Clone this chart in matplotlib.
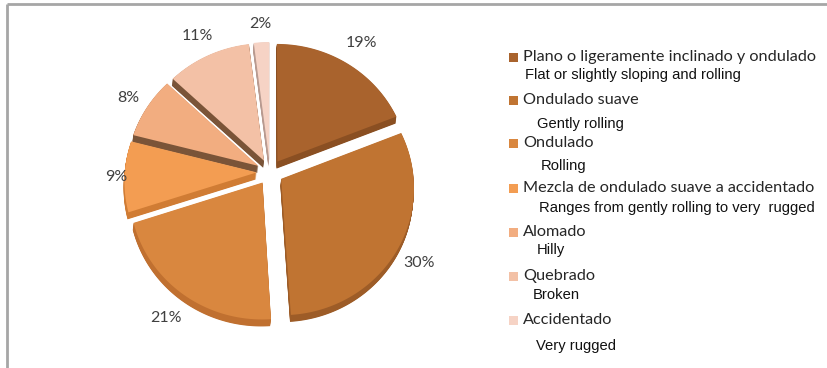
import matplotlib
matplotlib.use("Agg")
import matplotlib.pyplot as plt
import matplotlib.patches as mpatches
import numpy as np

# Terrain classes (Spanish / English) and their shares in percent
labels_es = ["Plano o ligeramente inclinado y ondulado", "Ondulado suave", "Ondulado",
             "Mezcla de ondulado suave a accidentado", "Alomado", "Quebrado", "Accidentado"]
labels_en = ["Flat or slightly sloping and rolling", "Gently rolling", "Rolling",
             "Ranges from gently rolling to very  rugged", "Hilly", "Broken", "Very rugged"]
shares = [19, 30, 21, 9, 8, 11, 2]

colors = ["#a9632d", "#c07432", "#d9873f", "#f39d52", "#f2ad80", "#f3c1a6", "#f6d3c5"]
side_colors = ["#8a4f22", "#9d5c27", "#c07030", "#d07c34", "#7a5438", "#7a5438", "#b89a90"]

W, H = 828, 368
fig = plt.figure(figsize=(W / 100, H / 100), dpi=100)
ax = fig.add_axes([0, 0, 1, 1])

# tilted pie: plane coordinates (unit radius) projected with mild perspective
cx, cy = 270, H - 172
sx, sy, persp = 132, 126.6, 0.065
explode = 0.1
depth = 7


def project(u, v):
    s = 1.0 / (1.0 + persp * v)
    return cx + sx * u * s, cy + sy * v * s


fracs = np.array(shares, dtype=float) / sum(shares)
theta = np.pi / 2
slices = []
for f in fracs:
    t2 = theta - 2 * np.pi * f
    tm = (theta + t2) / 2
    ox, oy = explode * np.cos(tm), explode * np.sin(tm)
    arc = np.linspace(theta, t2, max(int(abs(t2 - theta) * 60), 4))
    u = np.concatenate([[ox], ox + np.cos(arc)])
    v = np.concatenate([[oy], oy + np.sin(arc)])
    px, py = project(u, v)
    slices.append((np.column_stack([px, py]), tm))
    theta = t2

# extruded sides
for (pts, tm), sc in zip(slices, side_colors):
    for d in np.arange(depth, 0, -0.5):
        ax.add_patch(mpatches.Polygon(pts + [-0.12 * d, -d], closed=True, facecolor=sc,
                                      edgecolor="none", zorder=1))

# top faces
for (pts, tm), c in zip(slices, colors):
    ax.add_patch(mpatches.Polygon(pts, closed=True, facecolor=c, edgecolor="none", zorder=2))

# percentage labels
label_dist = [1.32, 1.28, 1.30, 1.16, 1.27, 1.30, 1.27]
for (pts, tm), s, ld in zip(slices, shares, label_dist):
    lx, ly = project(ld * np.cos(tm), ld * np.sin(tm))
    ax.text(lx, ly, f"{s}%", ha="center", va="center", fontsize=11.5, family="Lato",
            color="#404040", zorder=3)

ax.set_xlim(0, W)
ax.set_ylim(0, H)
ax.axis("off")

# frame lines (top and left)
ax.plot([7, W], [H - 4, H - 4], color="#a6a6a6", lw=2, solid_capstyle="butt", zorder=5)
ax.plot([7, 7], [H - 4, 0], color="#a6a6a6", lw=2, solid_capstyle="butt", zorder=5)

# legend
es_y = [57, 100, 143, 188, 232, 276, 320]
en_y = [75, 124, 166, 208, 250, 295, 346]
en_x = [525, 537, 541, 539, 537, 533, 536]
for c, le, ln, ye, yn, xn in zip(colors, labels_es, labels_en, es_y, en_y, en_x):
    ax.add_patch(mpatches.Rectangle((509, H - ye - 4.5), 9, 9, facecolor=c, edgecolor="none"))
    ax.text(523, H - ye, le, ha="left", va="center", fontsize=11.7, family="Lato", color="#262626")
    ax.text(xn, H - yn, ln, ha="left", va="center", fontsize=10.6, family="Liberation Sans",
            color="#111111")

fig.savefig("out.png", dpi=100, facecolor="white")
